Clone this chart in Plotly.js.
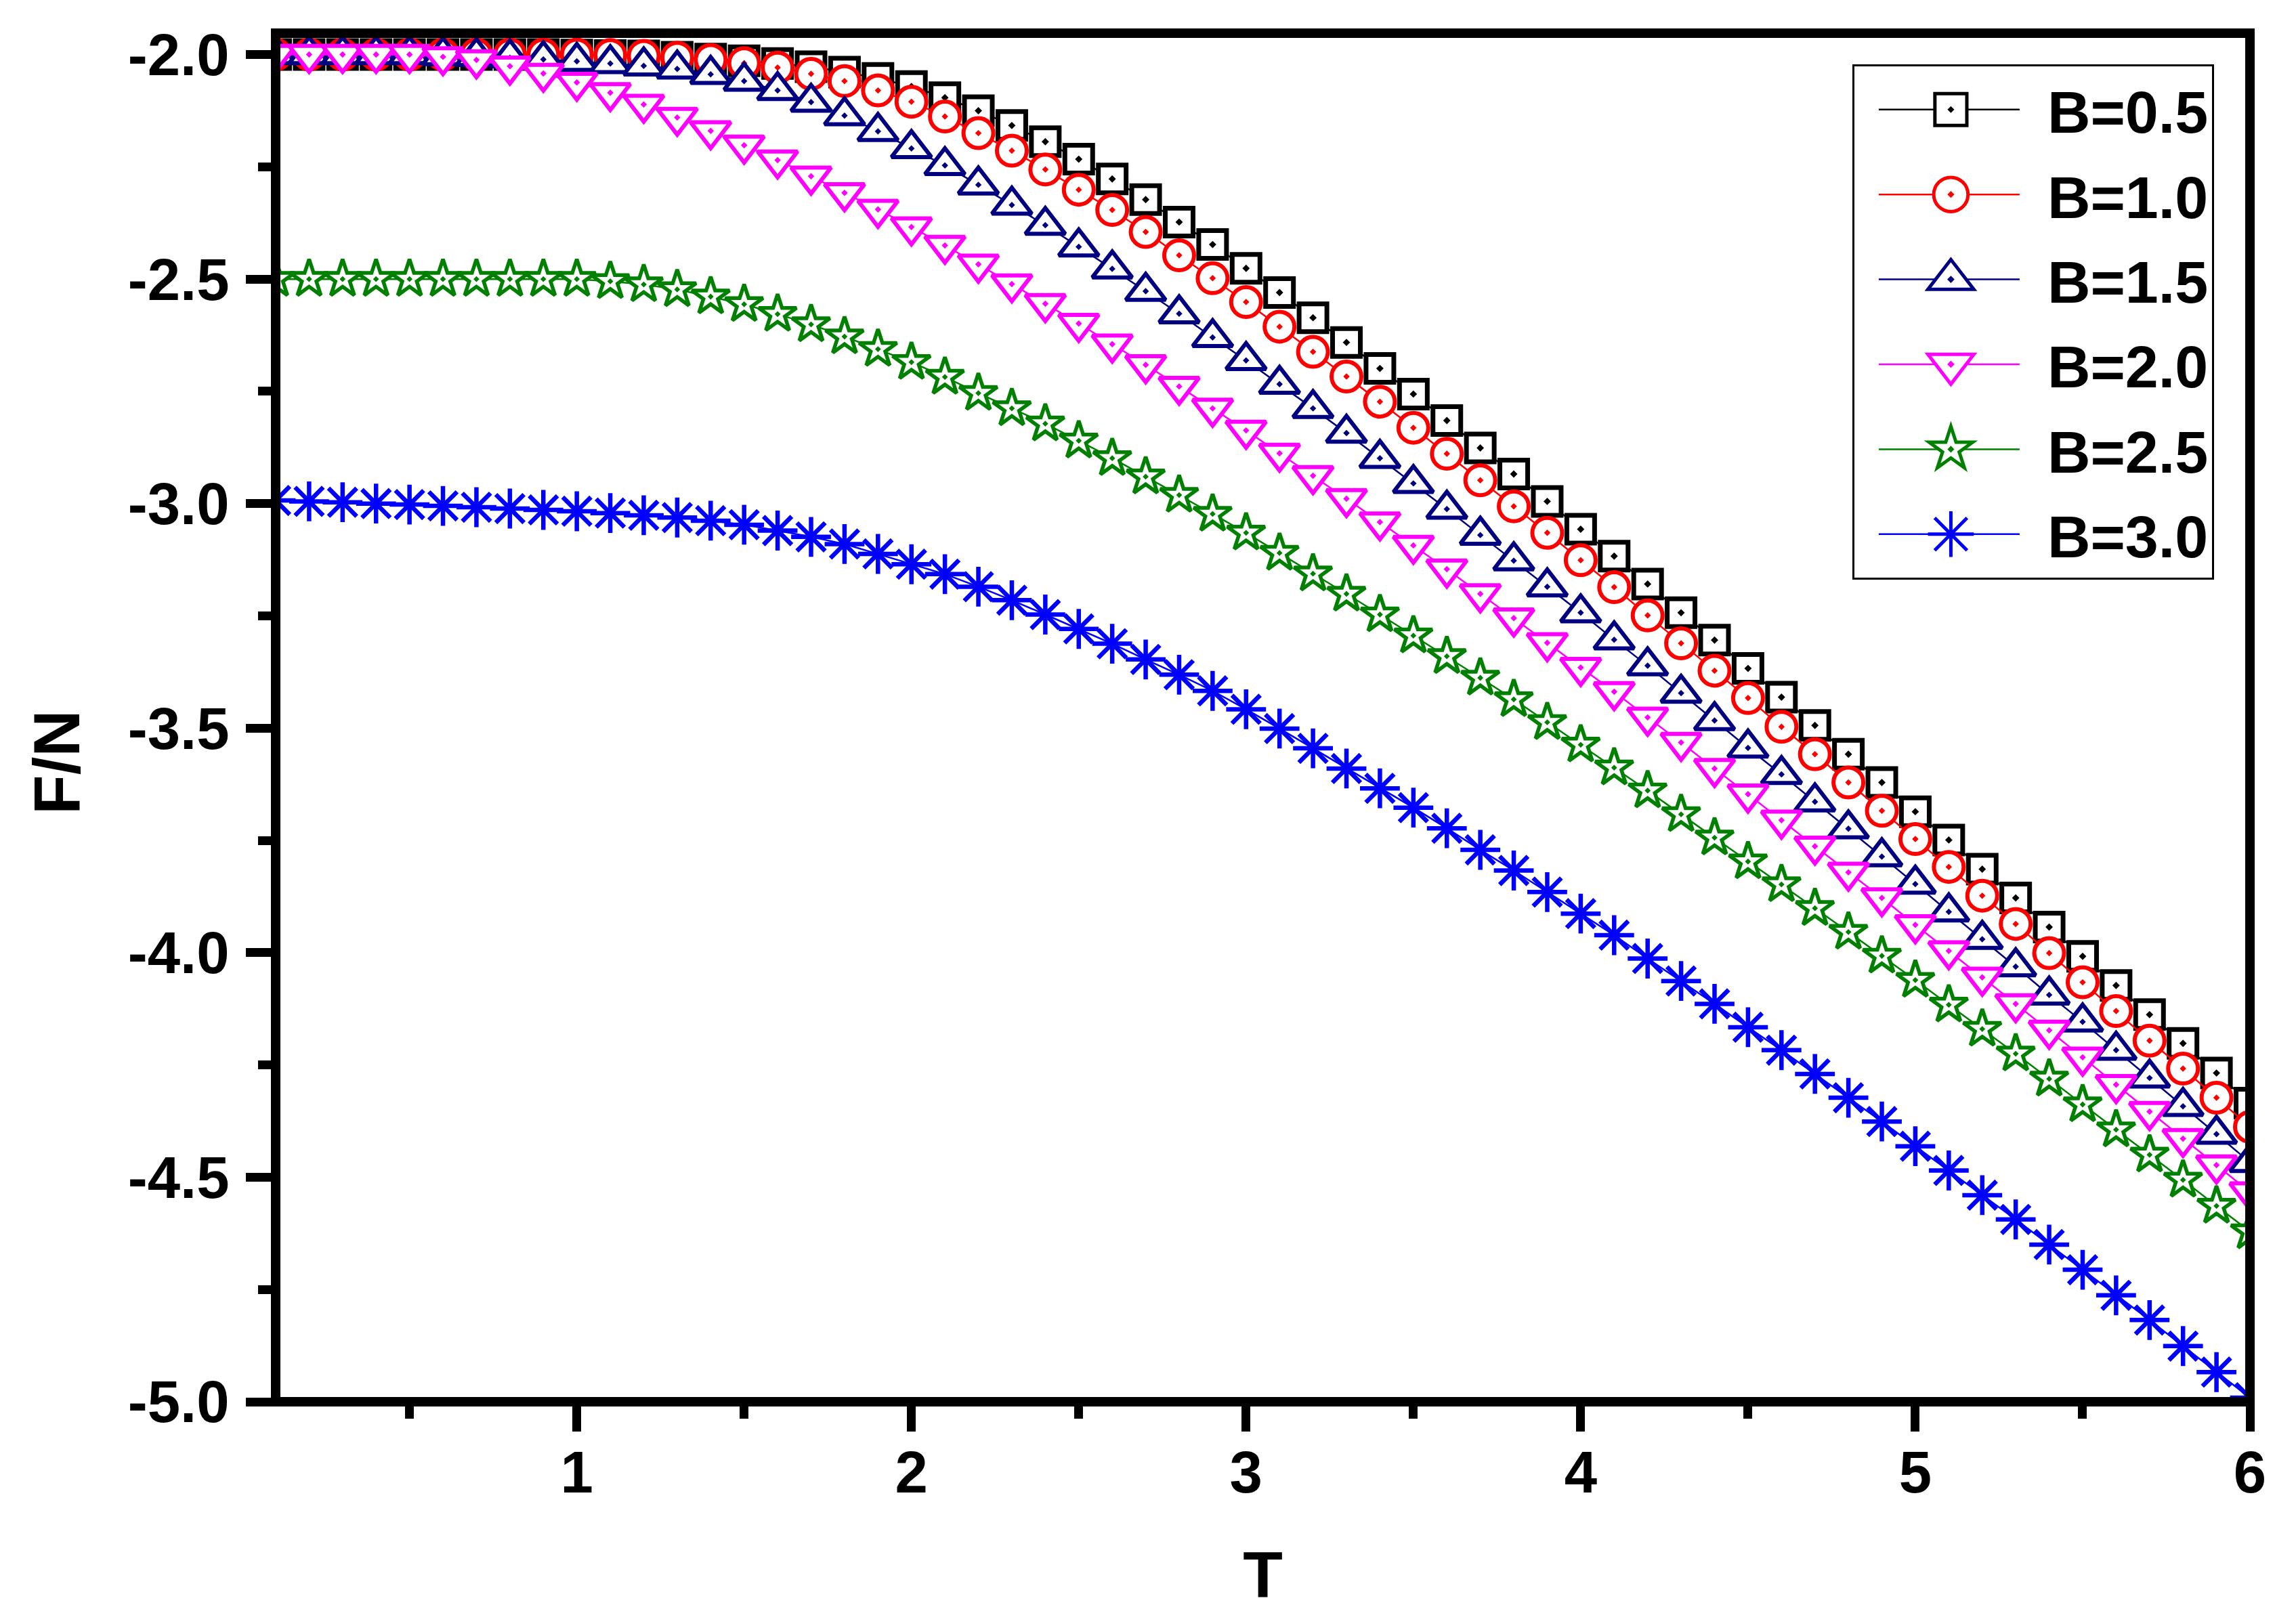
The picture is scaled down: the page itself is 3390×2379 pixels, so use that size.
<!DOCTYPE html>
<html>
<head>
<meta charset="utf-8">
<script src="https://cdn.plot.ly/plotly-3.0.1.min.js"></script>
<style>html,body{margin:0;padding:0;background:#fff;}#chart{width:3390px;height:2379px;}</style>
</head>
<body>
<div id="chart"></div>
<script>
// Temperature values (x)
var T = [0.1,0.2,0.3,0.4,0.5,0.6,0.7,0.8,0.9,1.0,
         1.1,1.2,1.3,1.4,1.5,1.6,1.7,1.8,1.9,2.0,
         2.1,2.2,2.3,2.4,2.5,2.6,2.7,2.8,2.9,3.0,
         3.1,3.2,3.3,3.4,3.5,3.6,3.7,3.8,3.9,4.0,
         4.1,4.2,4.3,4.4,4.5,4.6,4.7,4.8,4.9,5.0,
         5.1,5.2,5.3,5.4,5.5,5.6,5.7,5.8,5.9,6.0];

// F/N for each field B
var F_B05 = [-2.000,-2.000,-2.000,-2.000,-2.000,-2.000,-2.000,-2.000,-2.000,-2.001,
             -2.002,-2.003,-2.006,-2.010,-2.014,-2.020,-2.027,-2.039,-2.053,-2.071,
             -2.096,-2.125,-2.158,-2.194,-2.233,-2.277,-2.323,-2.373,-2.423,-2.476,
             -2.530,-2.586,-2.641,-2.699,-2.756,-2.815,-2.876,-2.934,-2.995,-3.057,
             -3.117,-3.179,-3.243,-3.304,-3.367,-3.431,-3.494,-3.558,-3.621,-3.686,
             -3.749,-3.814,-3.878,-3.943,-4.008,-4.073,-4.138,-4.202,-4.268,-4.335];
var F_B10 = [-2.000,-2.000,-2.000,-2.000,-2.000,-2.000,-2.000,-2.000,-2.000,-2.000,
             -2.001,-2.003,-2.007,-2.012,-2.019,-2.029,-2.043,-2.059,-2.080,-2.105,
             -2.138,-2.175,-2.214,-2.256,-2.301,-2.346,-2.395,-2.447,-2.498,-2.551,
             -2.606,-2.662,-2.717,-2.773,-2.831,-2.889,-2.948,-3.006,-3.065,-3.126,
             -3.186,-3.249,-3.311,-3.372,-3.433,-3.497,-3.558,-3.621,-3.684,-3.747,
             -3.809,-3.873,-3.936,-4.001,-4.066,-4.130,-4.196,-4.258,-4.323,-4.388];
var F_B15 = [-2.000,-2.000,-2.000,-2.000,-2.000,-2.002,-2.004,-2.007,-2.011,-2.015,
             -2.020,-2.025,-2.032,-2.044,-2.059,-2.080,-2.106,-2.136,-2.171,-2.209,
             -2.247,-2.290,-2.335,-2.380,-2.428,-2.477,-2.527,-2.577,-2.630,-2.681,
             -2.734,-2.788,-2.843,-2.899,-2.955,-3.012,-3.070,-3.127,-3.185,-3.243,
             -3.303,-3.361,-3.422,-3.483,-3.544,-3.603,-3.664,-3.724,-3.786,-3.847,
             -3.909,-3.970,-4.031,-4.094,-4.154,-4.217,-4.279,-4.342,-4.404,-4.467];
var F_B20 = [-2.000,-2.000,-2.000,-2.000,-2.000,-2.005,-2.012,-2.026,-2.042,-2.062,
             -2.085,-2.111,-2.140,-2.170,-2.202,-2.235,-2.271,-2.308,-2.345,-2.384,
             -2.425,-2.467,-2.511,-2.555,-2.599,-2.645,-2.691,-2.739,-2.788,-2.837,
             -2.888,-2.938,-2.989,-3.041,-3.093,-3.146,-3.201,-3.255,-3.310,-3.365,
             -3.419,-3.476,-3.532,-3.590,-3.647,-3.705,-3.763,-3.821,-3.878,-3.938,
             -3.996,-4.055,-4.114,-4.173,-4.233,-4.294,-4.354,-4.414,-4.473,-4.533];
var F_B25 = [-2.500,-2.500,-2.500,-2.500,-2.500,-2.500,-2.500,-2.500,-2.500,-2.500,
             -2.505,-2.512,-2.523,-2.539,-2.556,-2.578,-2.601,-2.628,-2.656,-2.685,
             -2.718,-2.754,-2.788,-2.822,-2.860,-2.899,-2.940,-2.981,-3.023,-3.065,
             -3.110,-3.156,-3.201,-3.247,-3.294,-3.340,-3.388,-3.436,-3.487,-3.537,
             -3.588,-3.639,-3.692,-3.744,-3.797,-3.848,-3.901,-3.954,-4.007,-4.061,
             -4.116,-4.170,-4.225,-4.281,-4.338,-4.394,-4.450,-4.506,-4.564,-4.621];
var F_B30 = [-2.993,-2.995,-2.997,-3.000,-3.002,-3.005,-3.008,-3.011,-3.014,-3.017,
             -3.021,-3.026,-3.031,-3.038,-3.047,-3.060,-3.074,-3.090,-3.112,-3.135,
             -3.157,-3.185,-3.215,-3.247,-3.279,-3.312,-3.347,-3.381,-3.417,-3.458,
             -3.501,-3.545,-3.590,-3.634,-3.677,-3.723,-3.771,-3.817,-3.865,-3.913,
             -3.961,-4.013,-4.063,-4.114,-4.166,-4.217,-4.270,-4.323,-4.376,-4.431,
             -4.485,-4.540,-4.594,-4.650,-4.706,-4.763,-4.818,-4.876,-4.934,-4.991];

var seriesNames = ['B=0.5','B=1.0','B=1.5','B=2.0','B=2.5','B=3.0'];
var seriesValues = [F_B05, F_B10, F_B15, F_B20, F_B25, F_B30];

var xTickVals = [1,2,3,4,5,6];
var xTickText = ['1','2','3','4','5','6'];
var yTickVals = [-2.0,-2.5,-3.0,-3.5,-4.0,-4.5,-5.0];
var yTickText = ['-2.0','-2.5','-3.0','-3.5','-4.0','-4.5','-5.0'];

// styles
var colors  = ['#000000','#FF0000','#000080','#FF00FF','#008000','#0000FF'];
var symbols = ['square-dot','circle-dot','triangle-up-dot','triangle-down-dot','star-dot','asterisk-open'];
var sizes   = [41, 44, 51, 51, 42, 49];
var mlw     = [7, 6, 6, 6, 5.5, 6.5];

var FONT = 'Liberation Sans, Arial, Helvetica, sans-serif';

var traces = seriesNames.map(function(name, i){
  var isAst = symbols[i].indexOf('asterisk') === 0;
  return {
    type: 'scatter', mode: 'lines+markers', name: name,
    x: T, y: seriesValues[i],
    legendgroup: 'g' + i,
    line: {color: colors[i], width: 2.5},
    marker: {
      symbol: symbols[i], size: sizes[i],
      color: isAst ? colors[i] : '#FFFFFF',
      line: {color: colors[i], width: mlw[i]}
    }
  };
});

var axisFont = {family: FONT, size: 87, color: '#000', weight: 'bold'};

var layout = {
  width: 3390, height: 2379,
  margin: {l: 407, r: 68, t: 49, b: 309, pad: 0},
  paper_bgcolor: '#FFFFFF', plot_bgcolor: '#FFFFFF',
  showlegend: true,
  font: {family: FONT, color: '#000'},
  xaxis: {
    range: [0.1, 6.0], automargin: false,
    showgrid: false, zeroline: false, showline: false,
    ticks: 'outside', ticklen: 43, tickwidth: 13, tickcolor: '#000',
    tickmode: 'array', tickvals: xTickVals, ticktext: xTickText,
    tickfont: axisFont, ticklabelstandoff: -14,
    minor: {ticks: 'outside', dtick: 0.5, tick0: 0, ticklen: 24, tickwidth: 13, tickcolor: '#000', showgrid: false},
    title: {text: 'T', font: {family: FONT, size: 96, color: '#000', weight: 'bold'}, standoff: 92}
  },
  yaxis: {
    range: [-5.0, -1.9524], automargin: false,
    showgrid: false, zeroline: false, showline: false,
    ticks: 'outside', ticklen: 43, tickwidth: 13, tickcolor: '#000',
    tickmode: 'array', tickvals: yTickVals, ticktext: yTickText,
    tickfont: axisFont, ticklabelstandoff: 7,
    minor: {ticks: 'outside', dtick: 0.25, tick0: 0, ticklen: 25, tickwidth: 13, tickcolor: '#000', showgrid: false}
  },
  legend: {
    x: 0.7986, y: 0.9772, xanchor: 'left', yanchor: 'top',
    bgcolor: '#FFFFFF', bordercolor: '#000000', borderwidth: 3,
    font: {family: FONT, size: 88, color: '#000', weight: 'bold'},
    itemwidth: 275, traceorder: 'grouped', tracegroupgap: 8
  },
  shapes: [{
    type: 'rect', xref: 'paper', yref: 'paper', x0: 0, x1: 1, y0: 0, y1: 1,
    line: {color: '#000000', width: 14}, fillcolor: 'rgba(0,0,0,0)', layer: 'above'
  }],
  annotations: [{
    text: 'F/N', xref: 'paper', yref: 'paper',
    x: -0.1108, y: 0.4671, xanchor: 'center', yanchor: 'middle',
    textangle: -90, showarrow: false,
    font: {family: FONT, size: 96, color: '#000', weight: 'bold'}
  }]
};

function styleLegendSymbols(){
  var groups = document.querySelectorAll('g.legend g.traces');
  groups.forEach(function(g, i){
    var k = 1.15 * sizes[i] / 16;
    g.querySelectorAll('.legendpoints path').forEach(function(p){
      if (p.classList.contains('js-line')) return;
      if (p.getAttribute('data-scaled')) return;
      var tr = p.getAttribute('transform') || '';
      p.setAttribute('transform', tr + ' scale(' + k + ')');
      p.style.vectorEffect = 'non-scaling-stroke';
      p.setAttribute('data-scaled', '1');
    });
    // shorter sample line, centred on the symbol
    g.querySelectorAll('.legendlines path.js-line').forEach(function(p){
      p.setAttribute('d', 'M36,0h208');
    });
  });
}

var gd = document.getElementById('chart');
Plotly.newPlot(gd, traces, layout, {displayModeBar: false, staticPlot: true}).then(function(){
  styleLegendSymbols();
  setTimeout(styleLegendSymbols, 50);
  setTimeout(styleLegendSymbols, 300);
});
gd.on && gd.on('plotly_afterplot', styleLegendSymbols);
</script>
</body>
</html>
